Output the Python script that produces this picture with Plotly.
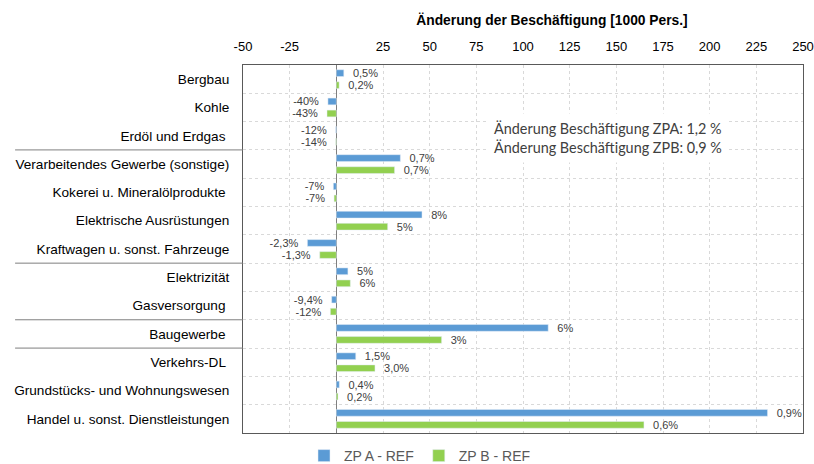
import plotly.graph_objects as go

categories = [
    "Bergbau", "Kohle", "Erdöl und Erdgas ", "Verarbeitendes Gewerbe (sonstige)",
    "Kokerei u. Mineralölprodukte ", "Elektrische Ausrüstungen",
    "Kraftwagen u. sonst. Fahrzeuge", "Elektrizität", "Gasversorgung ",
    "Baugewerbe ", "Verkehrs-DL ", "Grundstücks- und Wohnungswesen",
    "Handel u. sonst. Dienstleistungen",
]
zpa_values = [4.0, -4.5, -0.3, 34.3, -1.6, 45.9, -15.5, 6.2, -2.5, 113.5, 10.4, 1.6, 231.0]
zpb_values = [1.5, -5.0, -0.3, 31.2, -1.2, 27.5, -8.9, 7.5, -3.2, 56.4, 20.7, 0.9, 164.8]
zpa_labels = ["0,5%", "-40%", "-12%", "0,7%", "-7%", "8%", "-2,3%", "5%", "-9,4%", "6%", "1,5%", "0,4%", "0,9%"]
zpb_labels = ["0,2%", "-43%", "-14%", "0,7%", "-7%", "5%", "-1,3%", "6%", "-12%", "3%", "3,0%", "0,2%", "0,6%"]
x_ticks = [-50, -25, 25, 50, 75, 100, 125, 150, 175, 200, 225, 250]
separator_after = [2, 6, 8, 9]  # index of category after which a separator line is drawn

BLUE = "#5B9BD5"
GREEN = "#92D050"
NB = "\u00a0\u00a0"


def pad(labels, values):
    return [(NB + t) if v >= 0 else (t + NB) for t, v in zip(labels, values)]


fig = go.Figure()
fig.add_trace(go.Bar(
    y=categories, x=zpa_values, orientation="h", name="ZP A - REF",
    marker=dict(color=BLUE), text=pad(zpa_labels, zpa_values),
    textposition="outside", constraintext="none", cliponaxis=False,
    textfont=dict(family="Liberation Sans", size=11, color="#404040"),
))
fig.add_trace(go.Bar(
    y=categories, x=zpb_values, orientation="h", name="ZP B - REF",
    marker=dict(color=GREEN), text=pad(zpb_labels, zpb_values),
    textposition="outside", constraintext="none", cliponaxis=False,
    textfont=dict(family="Liberation Sans", size=11, color="#404040"),
))

shapes = []
for i in separator_after:
    shapes.append(dict(type="line", xref="paper", yref="y",
                       x0=-0.407, x1=0, y0=i + 0.5, y1=i + 0.5,
                       line=dict(color="#7f7f7f", width=1)))

fig.update_layout(
    width=814, height=464,
    margin=dict(l=243, r=11, t=65, b=31, autoexpand=False),
    paper_bgcolor="white", plot_bgcolor="white",
    barmode="group", bargap=0.15, bargroupgap=0.44,
    font=dict(family="Liberation Sans", color="#000000"),
    title=dict(text="<b>Änderung der Beschäftigung [1000 Pers.]</b>",
               x=552 / 814, xanchor="center", xref="container",
               y=1 - 20 / 464, yanchor="middle", yref="container",
               font=dict(family="Liberation Sans", size=13.8, color="#000000")),
    xaxis=dict(
        side="top", range=[-50, 250], tickvals=x_ticks, automargin=False,
        ticktext=[str(v) for v in x_ticks],
        showgrid=True, gridcolor="#D9D9D9", griddash="dot", gridwidth=1,
        zeroline=True, zerolinecolor="#7f7f7f", zerolinewidth=1,
        showline=True, linecolor="#595959", linewidth=1, mirror=True,
        ticks="outside", ticklen=0, tickcolor="white", ticklabelstandoff=8,
        tickfont=dict(family="Liberation Sans", size=13, color="#000000"),
    ),
    yaxis=dict(
        type="category", categoryorder="array", categoryarray=categories,
        autorange="reversed", tickson="boundaries", automargin=False,
        showgrid=True, gridcolor="#D9D9D9", griddash="dot", gridwidth=1,
        showline=True, linecolor="#595959", linewidth=1, mirror=True,
        ticks="", ticklabelstandoff=10,
        tickfont=dict(family="Liberation Sans", size=13.6, color="#000000"),
    ),
    legend=dict(orientation="h", xref="container", yref="container",
                x=420 / 814, xanchor="center", y=1 - 440 / 464, yanchor="top",
                font=dict(family="Liberation Sans", size=14, color="#595959"),
                traceorder="normal"),
    shapes=shapes,
    annotations=[dict(
        text="Änderung Beschäftigung ZPA: 1,2 %<br>Änderung Beschäftigung ZPB: 0,9 %",
        xref="paper", yref="paper", x=(487 - 243) / 560, xanchor="left",
        y=1 - (137.5 - 65) / 368, yanchor="middle", align="left", showarrow=False,
        bgcolor="white", borderpad=6,
        font=dict(family="Lato", size=14.4, color="#404040"),
    )],
)

fig.write_html("out.html", config={"displayModeBar": False},
               post_script="document.body.style.margin='0';")
